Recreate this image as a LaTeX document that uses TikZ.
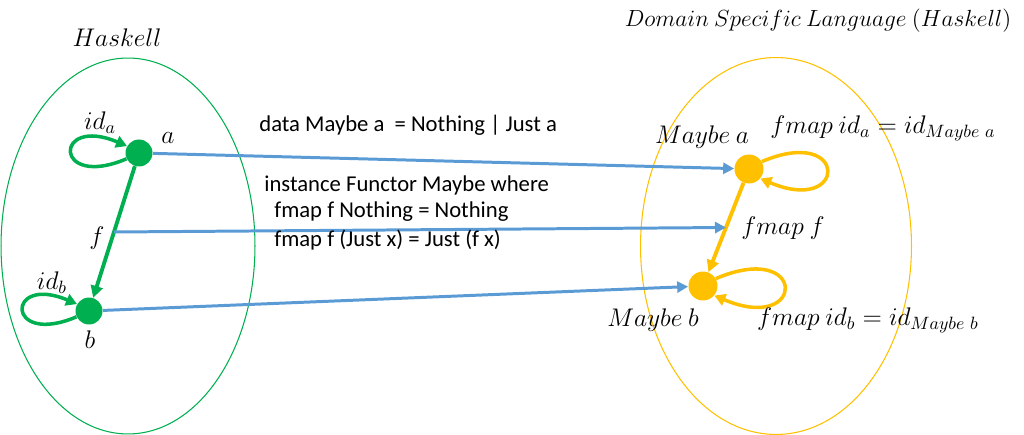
\documentclass[tikz,border=0pt]{standalone}
\usepackage{fix-cm}
\usepackage{fontspec}
\setmainfont{Carlito}
\usetikzlibrary{positioning,arrows.meta,shapes.geometric}
\definecolor{hsgreen}{HTML}{00B050}
\definecolor{dslorange}{HTML}{FFC000}
\definecolor{mapblue}{HTML}{5B9BD5}

\begin{document}
\begin{tikzpicture}[
  x=0.02cm, y=-0.02cm,
  category/.style={draw, ellipse, line width=0.6pt, inner sep=0pt},
  obj/.style={circle, inner sep=0pt, minimum size=0.54cm},
  lbl/.style={inner sep=0pt, font=\fontsize{14.5}{17}\selectfont},
  code/.style={inner sep=0pt, anchor=west, font=\fontsize{12.9}{15}\selectfont},
  morph/.style={-{Triangle[length=2.4mm, width=2.4mm]}, line width=2.2pt},
  selfmap/.style={-{Triangle[length=2.2mm, width=2.4mm]}, line width=2pt},
  functor/.style={-{Triangle[length=2.2mm, width=2.2mm]}, line width=1.7pt, mapblue},
]
\useasboundingbox (0,0) rectangle (1024,435);

% categories
\node[category, hsgreen, minimum width=5.08cm, minimum height=7.52cm] (hask) at (128,246) {};
\node[category, dslorange, minimum width=5.42cm, minimum height=7.54cm] (dsl) at (776,246) {};
\node[lbl] (haskname) at (117,38) {$Haskell$};
\node[lbl, font=\fontsize{13.3}{16}\selectfont] (dslname) at (818,21) {$Domain\ Specific\ Language\ (Haskell)$};

% objects
\node[obj, fill=hsgreen] (a) at (139,153) {};
\node[obj, fill=hsgreen] (b) at (89,311) {};
\node[obj, fill=dslorange, minimum size=0.58cm] (ma) at (749,169) {};
\node[obj, fill=dslorange, minimum size=0.58cm] (mb) at (703,286) {};

% morphisms
\draw[selfmap, hsgreen] (a.205) to[out=203, in=157, distance=1.6cm] (a.150);
\draw[selfmap, hsgreen] (b.205) to[out=203, in=157, distance=1.55cm] (b.150);
\draw[morph, hsgreen] (a) -- coordinate[midway] (fmid) (b);
\draw[selfmap, dslorange] (ma.30) to[out=23, in=-23, distance=1.9cm] (ma.-40);
\draw[selfmap, dslorange] (mb.30) to[out=23, in=-23, distance=2cm] (mb.-40);
\draw[morph, dslorange] (ma) -- coordinate[midway] (fmapmid) (mb);

% functor
\draw[functor] (a) -- (ma);
\draw[functor] (fmid) -- (fmapmid);
\draw[functor] (b) -- (mb);

% labels
\node[lbl] (ida) at (100,123) {$id_a$};
\node[lbl] (alab) at (168,138) {$a$};
\node[lbl] (flab) at (97,238) {$f$};
\node[lbl] (idb) at (52,283) {$id_b$};
\node[lbl] (blab) at (90,340) {$b$};
\node[lbl] (malab) at (702,137) {$Maybe\ a$};
\node[lbl] (fmapida) at (883,128) {$fmap\ id_a = id_{Maybe\ a}$};
\node[lbl] (fmapf) at (783,228) {$fmap\ f$};
\node[lbl] (mblab) at (653,320) {$Maybe\ b$};
\node[lbl] (fmapidb) at (868,320) {$fmap\ id_b = id_{Maybe\ b}$};

% code
\node[code] (datadecl) at (259,125) {data Maybe a~ = Nothing | Just a};
\node[code] (inst) at (264,185) {instance Functor Maybe where};
\node[code] (fmapnothing) at (274,212) {fmap f Nothing = Nothing};
\node[code] (fmapjust) at (274,240) {fmap f (Just x) = Just (f x)};
\end{tikzpicture}
\end{document}
